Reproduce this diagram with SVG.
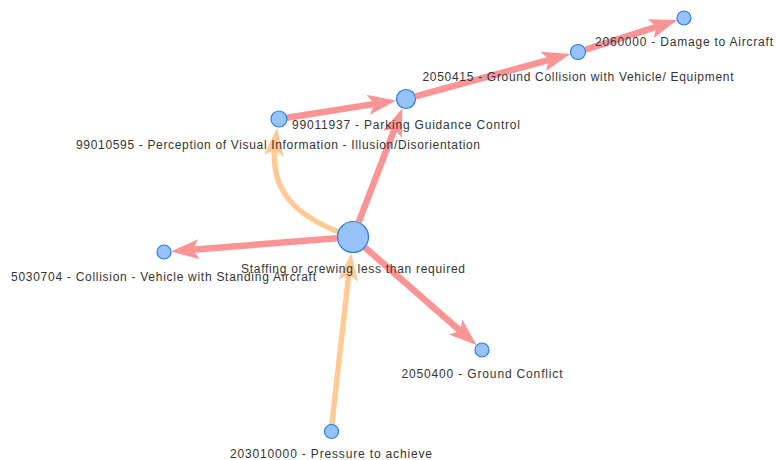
<svg xmlns="http://www.w3.org/2000/svg" width="776" height="460" viewBox="0 0 776 460">
  <style>
    .node circle { fill: #97c2fc; stroke: #2b7ce9; stroke-width: 1.2; }
    .node text { font-family: "Liberation Sans", Arial, sans-serif; font-size: 12px; fill: #343434; text-anchor: middle; }
    .cause { fill: none; stroke: #fb9494; stroke-width: 6.5; }
    .factor { fill: none; stroke: #ffca96; stroke-width: 5.5; }
  </style>
  <defs>
    <marker id="arrRed" markerUnits="userSpaceOnUse" viewBox="0 0 28 20" refX="10" refY="10" markerWidth="28" markerHeight="20" orient="auto">
      <path d="M0,0 L28,10 L0,20 L6,10 z" fill="#fb9494"/>
    </marker>
    <marker id="arrOrange" markerUnits="userSpaceOnUse" viewBox="0 0 28 20" refX="10" refY="10" markerWidth="28" markerHeight="20" orient="auto">
      <path d="M0,0 L28,10 L0,20 L6,10 z" fill="#ffca96"/>
    </marker>
  </defs>
  <rect width="776" height="460" fill="#ffffff"/>

  <g id="connectors">
    <path class="cause" d="M358.7,222.1 L396,125.1" marker-end="url(#arrRed)"/>
    <path class="cause" d="M286.9,117.8 L378.3,103.4" marker-end="url(#arrRed)"/>
    <path class="cause" d="M415.6,96.4 L552.9,58.8" marker-end="url(#arrRed)"/>
    <path class="cause" d="M585.6,49.6 L660.2,25.6" marker-end="url(#arrRed)"/>
    <path class="cause" d="M337,238.3 L188.9,250" marker-end="url(#arrRed)"/>
    <path class="cause" d="M365,247.5 L463.2,333.5" marker-end="url(#arrRed)"/>
    <path class="factor" d="M331.8,425 L349.2,270.8" marker-end="url(#arrOrange)"/>
    <path class="factor" d="M339,232 C295,215 270,190 275,146" marker-end="url(#arrOrange)"/>
  </g>

  <g id="n-staffing" class="node">
    <circle cx="353" cy="237" r="15.5"/>
    <text x="353" y="273" textLength="224" lengthAdjust="spacing">Staffing or crewing less than required</text>
  </g>
  <g id="n-99011937" class="node">
    <circle cx="406" cy="99" r="9.5"/>
    <text x="406" y="129" textLength="228" lengthAdjust="spacing">99011937 - Parking Guidance Control</text>
  </g>
  <g id="n-99010595" class="node">
    <circle cx="279" cy="119" r="8"/>
    <text x="278" y="149" textLength="404" lengthAdjust="spacing">99010595 - Perception of Visual Information - Illusion/Disorientation</text>
  </g>
  <g id="n-2050415" class="node">
    <circle cx="578" cy="52" r="7.5"/>
    <text x="578" y="81" textLength="311" lengthAdjust="spacing">2050415 - Ground Collision with Vehicle/ Equipment</text>
  </g>
  <g id="n-2060000" class="node">
    <circle cx="684" cy="18" r="7"/>
    <text x="684" y="46" textLength="178" lengthAdjust="spacing">2060000 - Damage to Aircraft</text>
  </g>
  <g id="n-5030704" class="node">
    <circle cx="164" cy="252" r="7"/>
    <text x="163.5" y="281" textLength="305" lengthAdjust="spacing">5030704 - Collision - Vehicle with Standing Aircraft</text>
  </g>
  <g id="n-2050400" class="node">
    <circle cx="482" cy="350" r="7"/>
    <text x="482" y="378" textLength="161" lengthAdjust="spacing">2050400 - Ground Conflict</text>
  </g>
  <g id="n-203010000" class="node">
    <circle cx="331.5" cy="431.5" r="7"/>
    <text x="331" y="458" textLength="202" lengthAdjust="spacing">203010000 - Pressure to achieve</text>
  </g>
</svg>
